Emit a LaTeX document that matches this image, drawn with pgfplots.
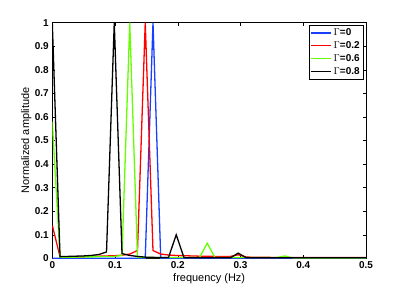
\documentclass[border=0pt]{standalone}
\usepackage{pgfplots}
\usepackage{pgfplotstable}
\pgfplotsset{compat=1.18}
\usepackage{fontspec}
\setmainfont{Liberation Sans}
\definecolor{mblue}{rgb}{0.1,0.25,1}
\definecolor{mred}{rgb}{1,0,0}
\definecolor{mgreen}{rgb}{0.4,1,0}
\pgfplotstableread{
x b r g k
0.000000 0 0.140 0.580 1.000
0.012346 0 0.006 0.005 0.007
0.024691 0 0.006 0.005 0.008
0.037037 0 0.007 0.005 0.009
0.049383 0 0.007 0.006 0.010
0.061728 0 0.008 0.006 0.012
0.074074 0 0.009 0.007 0.016
0.086420 0 0.010 0.008 0.027
0.098765 0 0.011 0.008 1.000
0.111111 0 0.013 0.012 0.020
0.123457 0 0.018 1.000 0.012
0.135802 0 0.033 0.004 0.008
0.148148 0 1.000 0.003 0.005
0.160494 1 0.033 0.003 0.004
0.172840 0 0.018 0.003 0.003
0.185185 0 0.014 0.003 0.003
0.197531 0 0.012 0.003 0.100
0.209877 0 0.011 0.003 0.003
0.222222 0 0.010 0.003 0.002
0.234568 0 0.009 0.003 0.002
0.246914 0 0.009 0.064 0.002
0.259259 0 0.008 0.003 0.002
0.271605 0 0.008 0.003 0.002
0.283951 0 0.008 0.003 0.002
0.296296 0 0.015 0.003 0.022
0.308642 0 0.006 0.003 0.003
0.320988 0 0.004 0.003 0.002
0.333333 0 0.004 0.003 0.002
0.345679 0 0.004 0.003 0.002
0.358025 0 0.003 0.003 0.002
0.370370 0 0.003 0.010 0.002
0.382716 0 0.003 0.002 0.002
0.395062 0 0.003 0.001 0.002
0.407407 0 0.003 0.001 0.002
0.419753 0 0.003 0.001 0.002
0.432099 0 0.003 0.001 0.002
0.444444 0 0.003 0.001 0.002
0.456790 0 0.003 0.001 0.002
0.469136 0 0.003 0.001 0.002
0.481481 0 0.003 0.001 0.002
0.493827 0 0.003 0.001 0.002
0.500000 0 0.003 0.001 0.002
}\datatable
\begin{document}
\begin{tikzpicture}
\begin{axis}[
  scale only axis,
  width=313.7bp, height=235.6bp,
  xmin=0, xmax=0.5, ymin=0, ymax=1,
  xtick={0,0.1,0.2,0.3,0.4,0.5},
  ytick={0,0.1,0.2,0.3,0.4,0.5,0.6,0.7,0.8,0.9,1},
  xticklabels={0,0.1,0.2,0.3,0.4,0.5},
  yticklabels={0,0.1,0.2,0.3,0.4,0.5,0.6,0.7,0.8,0.9,1},
  tick align=inside,
  major tick length=3bp,
  tick style={black, line width=0.4pt},
  axis line style={black, line width=0.6pt},
  ticklabel style={font=\fontsize{10}{12}\selectfont\bfseries},
  /pgf/number format/assume math mode=true,
  xlabel={frequency (Hz)},
  ylabel={Normalized amplitude},
  every axis x label/.style={at={(axis description cs:0.5,-0.0849)}, anchor=center, font=\fontsize{11}{13}\selectfont},
  every axis y label/.style={at={(axis description cs:-0.0829,0.5)}, rotate=90, anchor=center, font=\fontsize{11}{13}\selectfont},
  legend style={at={(1,1)}, anchor=north east, xshift=-2.7bp, yshift=-2.3bp,
    font=\fontsize{10}{12}\selectfont\bfseries, draw=black, fill=white,
    inner sep=1.5bp, row sep=0.5bp},
  legend cell align=left,
  legend image code/.code={\draw[#1, line width=1.3pt] (0bp,0bp) -- (20bp,0bp);},
  every axis plot/.append style={line width=1.3pt},
]
\addplot[mblue, no marks] table[x=x, y=b] {\datatable};
\addlegendentry{$\Gamma$=0}
\addplot[mred, no marks] table[x=x, y=r] {\datatable};
\addlegendentry{$\Gamma$=0.2}
\addplot[mgreen, no marks] table[x=x, y=g] {\datatable};
\addlegendentry{$\Gamma$=0.6}
\addplot[black, no marks] table[x=x, y=k] {\datatable};
\addlegendentry{$\Gamma$=0.8}
\end{axis}
\path (-52.3bp,-32.7bp) rectangle (352.7bp,258.3bp);
\end{tikzpicture}
\end{document}
